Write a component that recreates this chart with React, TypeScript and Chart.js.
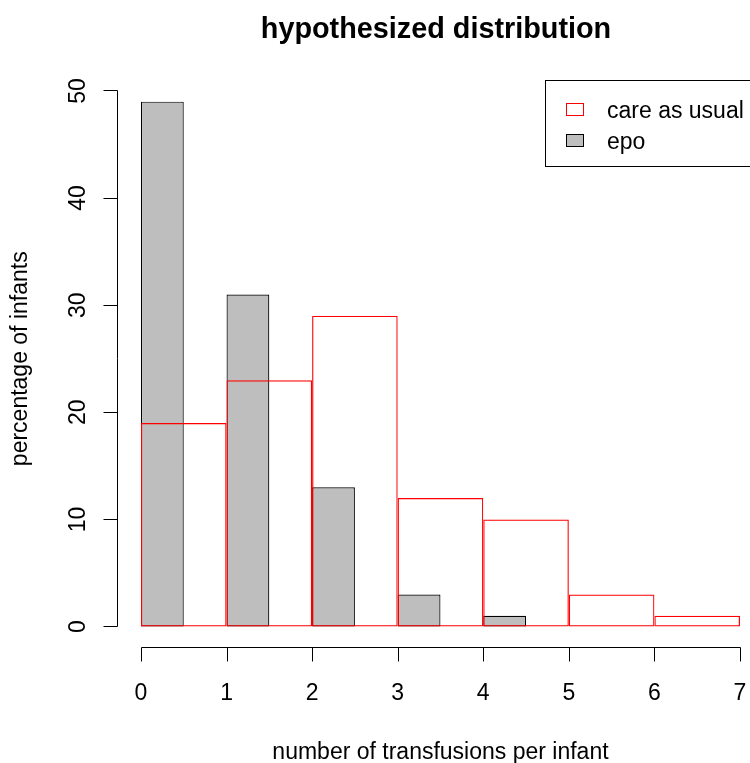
import React, { useEffect, useRef } from "react";
import { Chart, registerables } from "chart.js";

Chart.register(...registerables);

// ---- data ----
const careBins = [0, 1, 2, 3, 4, 5, 6];
const careAsUsual = [19, 23, 29, 12, 10, 3, 1];
const epoBins = [0, 1, 2, 3, 4];
const epo = [49, 31, 13, 3, 1];
const xTicks = [0, 1, 2, 3, 4, 5, 6, 7];
const yTicks = [0, 10, 20, 30, 40, 50];
const seriesNames = ["care as usual", "epo"];
const titleText = "hypothesized distribution";
const xTitle = "number of transfusions per infant";
const yTitle = "percentage of infants";

const FONT = '"Liberation Sans", Arial, Helvetica, sans-serif';
const RED = "#FF0000";
const GRAY = "#BEBEBE";

const rPlotPlugin = {
  id: "rPlot",
  afterDraw(chart: any) {
    const ctx = chart.ctx as CanvasRenderingContext2D;
    const xs = chart.scales.x;
    const ys = chart.scales.y;
    const area = chart.chartArea;
    const px = (v: number) => Math.round(xs.getPixelForValue(v)) + 0.5;
    const py = (v: number) => Math.floor(ys.getPixelForValue(v)) + 0.5;
    ctx.save();
    ctx.strokeStyle = "#000";
    ctx.fillStyle = "#000";
    ctx.lineWidth = 1;

    // x axis
    const axY = Math.round(area.bottom) - 0.5;
    ctx.beginPath();
    ctx.moveTo(px(xTicks[0]), axY);
    ctx.lineTo(px(xTicks[xTicks.length - 1]), axY);
    xTicks.forEach((t) => {
      ctx.moveTo(px(t), axY);
      ctx.lineTo(px(t), axY + 14);
    });
    ctx.stroke();
    ctx.font = `23px ${FONT}`;
    ctx.textAlign = "center";
    ctx.textBaseline = "alphabetic";
    xTicks.forEach((t) => {
      ctx.fillText(String(t), xs.getPixelForValue(t), 700);
    });

    // y axis
    const axX = Math.round(area.left) + 0.5;
    ctx.beginPath();
    ctx.moveTo(axX, py(yTicks[0]));
    ctx.lineTo(axX, py(yTicks[yTicks.length - 1]));
    yTicks.forEach((t) => {
      ctx.moveTo(axX, py(t));
      ctx.lineTo(axX - 14, py(t));
    });
    ctx.stroke();
    yTicks.forEach((t) => {
      ctx.save();
      ctx.translate(85, ys.getPixelForValue(t));
      ctx.rotate(-Math.PI / 2);
      ctx.fillText(String(t), 0, 0);
      ctx.restore();
    });

    // axis titles
    const midX = (xs.getPixelForValue(xTicks[0]) + xs.getPixelForValue(xTicks[xTicks.length - 1])) / 2;
    ctx.fillText(xTitle, midX, 759);
    ctx.save();
    ctx.translate(27, (area.top + area.bottom) / 2);
    ctx.rotate(-Math.PI / 2);
    ctx.fillText(yTitle, 0, 0);
    ctx.restore();

    // main title
    ctx.font = `bold 28.8px ${FONT}`;
    ctx.fillText(titleText, 436, 38);

    // legend
    ctx.fillStyle = "#fff";
    ctx.fillRect(545.5, 80.5, 260, 86);
    ctx.strokeStyle = "#000";
    ctx.strokeRect(545.5, 80.5, 260, 86);
    ctx.strokeStyle = RED;
    ctx.strokeRect(566.5, 103.5, 17, 12);
    ctx.fillStyle = GRAY;
    ctx.fillRect(566.5, 134.5, 17, 12);
    ctx.strokeStyle = "#000";
    ctx.strokeRect(566.5, 134.5, 17, 12);
    ctx.fillStyle = "#000";
    ctx.font = `23px ${FONT}`;
    ctx.textAlign = "left";
    ctx.fillText(seriesNames[0], 607, 118);
    ctx.fillText(seriesNames[1], 607, 149);
    ctx.restore();
  },
};

export default function App() {
  const ref = useRef<HTMLCanvasElement | null>(null);
  useEffect(() => {
    if (!ref.current) return;
    const setTicks = (s: any) => {
      s.ticks = xTicks.map((value) => ({ value }));
    };
    const chart = new Chart(ref.current, {
      type: "bar",
      data: {
        datasets: [
          {
            label: seriesNames[0],
            data: careAsUsual.map((v, i) => ({ x: careBins[i] + 0.5, y: v })),
            xAxisID: "x",
            backgroundColor: "rgba(0,0,0,0)",
            borderColor: RED,
            borderWidth: 1.2,
            borderSkipped: false,
            grouped: false,
            categoryPercentage: 1,
            barPercentage: 1,
            inflateAmount: 0,
          } as any,
          {
            label: seriesNames[1],
            data: epo.map((v, i) => ({ x: epoBins[i] + 0.25, y: v })),
            xAxisID: "x2",
            backgroundColor: GRAY,
            borderColor: "#000",
            borderWidth: 1.2,
            borderSkipped: false,
            grouped: false,
            categoryPercentage: 1,
            barPercentage: 0.5,
            inflateAmount: 0,
          } as any,
        ],
      },
      options: {
        responsive: false,
        animation: false,
        devicePixelRatio: 1,
        events: [],
        layout: { padding: { left: 117, top: 69.5, right: 0, bottom: 115 } },
        plugins: {
          legend: { display: false },
          tooltip: { enabled: false },
          title: { display: false },
        },
        scales: {
          x: { type: "linear", min: -0.28, max: 7.117, offset: false, display: false, afterBuildTicks: setTicks },
          x2: { type: "linear", axis: "x", min: -0.28, max: 7.117, offset: false, display: false, afterBuildTicks: setTicks },
          y: { type: "linear", min: -2, max: 52, display: false },
        } as any,
      },
      plugins: [rPlotPlugin],
    });
    return () => chart.destroy();
  }, []);
  return (
    <div style={{ position: "absolute", left: 0, top: 0, width: 750, height: 763, background: "#fff" }}>
      <canvas ref={ref} width={750} height={763} />
    </div>
  );
}
